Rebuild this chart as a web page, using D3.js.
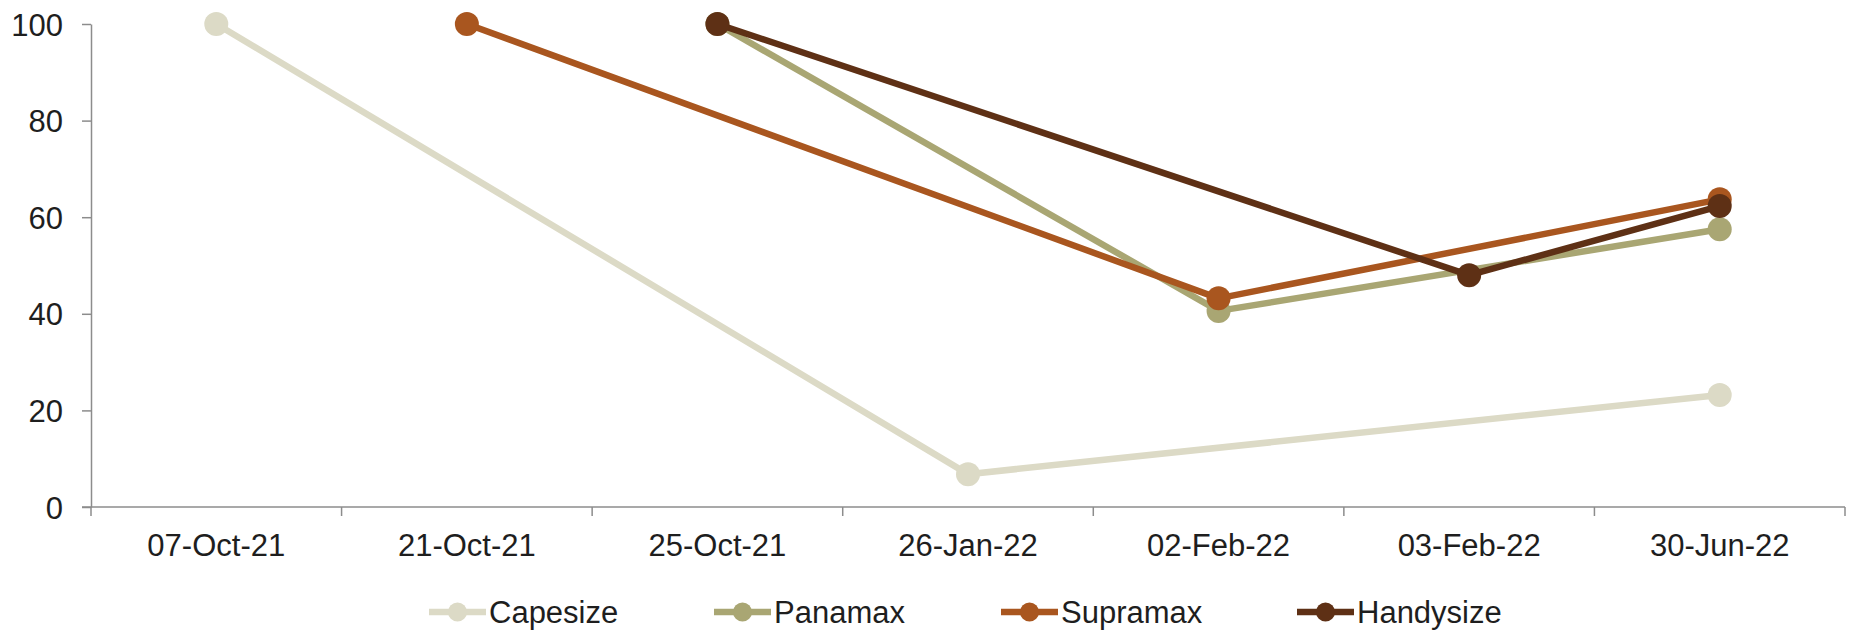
<!DOCTYPE html>
<html>
<head>
<meta charset="utf-8">
<script src="https://cdn.jsdelivr.net/npm/d3@7"></script>
<style>
  html, body { margin: 0; padding: 0; background: #ffffff; }
  svg { display: block; font-family: "Liberation Sans", Arial, sans-serif; }
</style>
</head>
<body>
<svg id="chart" width="1850" height="630"></svg>
<script>
// Dates of the observations (category axis)
const categories = ["07-Oct-21", "21-Oct-21", "25-Oct-21", "26-Jan-22", "02-Feb-22", "03-Feb-22", "30-Jun-22"];

// Index values per vessel class (null = no observation on that date)
const capesize  = [100, null, null, 6.8, null, null, 23.2];
const panamax   = [null, null, 100, null, 40.6, null, 57.5];
const supramax  = [null, 100, null, null, 43.2, null, 63.7];
const handysize = [null, null, 100, null, null, 48.0, 62.3];

const yTicks = [0, 20, 40, 60, 80, 100];

const seriesNames = ["Capesize", "Panamax", "Supramax", "Handysize"];
const seriesValues = [capesize, panamax, supramax, handysize];
const seriesColors = ["#dcdac6", "#a9a673", "#a9561f", "#5e3015"];

const svg = d3.select("#chart");
const plotLeft = 91, plotRight = 1845, plotTop = 24, plotBottom = 507;
const fontSize = "31px";

const x = d3.scaleBand().domain(categories).range([plotLeft, plotRight]).padding(0);
const y = d3.scaleLinear().domain([0, 100]).range([plotBottom, plotTop]);
const cx = c => x(c) + x.bandwidth() / 2;

// Y axis
const yAxis = svg.append("g")
  .attr("transform", `translate(${plotLeft},0)`)
  .call(d3.axisLeft(y).tickValues(yTicks).tickSize(9).tickSizeOuter(0).tickPadding(19).tickFormat(d3.format("d")));
yAxis.select(".domain").attr("stroke", "#8c8c8c").attr("stroke-width", 1.5);
yAxis.selectAll(".tick line").attr("stroke", "#8c8c8c").attr("stroke-width", 1.5);
yAxis.selectAll(".tick text").attr("fill", "#1e1e1e").style("font-size", fontSize)
  .attr("dy", "0.36em").style("font-family", "'Liberation Sans', Arial, sans-serif");

// X axis: baseline, tick marks at category boundaries, labels centred in each band
const xg = svg.append("g");
xg.append("line")
  .attr("x1", plotLeft - 9).attr("x2", plotRight)
  .attr("y1", y(0)).attr("y2", y(0))
  .attr("stroke", "#8c8c8c").attr("stroke-width", 1.5);
const boundaries = categories.map(c => x(c)).concat([x.range()[1]]);
xg.selectAll("line.tick").data(boundaries).join("line")
  .attr("class", "tick")
  .attr("x1", d => d).attr("x2", d => d)
  .attr("y1", y(0)).attr("y2", y(0) + 9)
  .attr("stroke", "#8c8c8c").attr("stroke-width", 1.5);
xg.selectAll("text").data(categories).join("text")
  .attr("x", d => cx(d))
  .attr("y", 556)
  .attr("text-anchor", "middle")
  .attr("fill", "#1e1e1e")
  .style("font-size", fontSize)
  .text(d => d);

// Series lines (gaps are bridged) and markers
const line = d3.line().x(d => cx(d.cat)).y(d => y(d.v));
seriesNames.forEach((name, si) => {
  const pts = categories.map((cat, i) => ({ cat, v: seriesValues[si][i] })).filter(d => d.v !== null);
  const g = svg.append("g");
  g.append("path")
    .datum(pts)
    .attr("d", line)
    .attr("fill", "none")
    .attr("stroke", seriesColors[si])
    .attr("stroke-width", 6.5)
    .attr("stroke-linejoin", "round");
  g.selectAll("circle").data(pts).join("circle")
    .attr("cx", d => cx(d.cat))
    .attr("cy", d => y(d.v))
    .attr("r", 12)
    .attr("fill", seriesColors[si]);
});

// Legend
const legendX = [429, 714, 1001, 1297];
const legendY = 612;
const lg = svg.append("g");
seriesNames.forEach((name, si) => {
  const g = lg.append("g").attr("transform", `translate(${legendX[si]},${legendY})`);
  g.append("line").attr("x1", 0).attr("x2", 57).attr("y1", 0).attr("y2", 0)
    .attr("stroke", seriesColors[si]).attr("stroke-width", 6.5);
  g.append("circle").attr("cx", 28.5).attr("cy", 0).attr("r", 9.5).attr("fill", seriesColors[si]);
  g.append("text").attr("x", 60).attr("y", 11)
    .attr("fill", "#1e1e1e").style("font-size", fontSize)
    .text(name);
});
</script>
</body>
</html>
